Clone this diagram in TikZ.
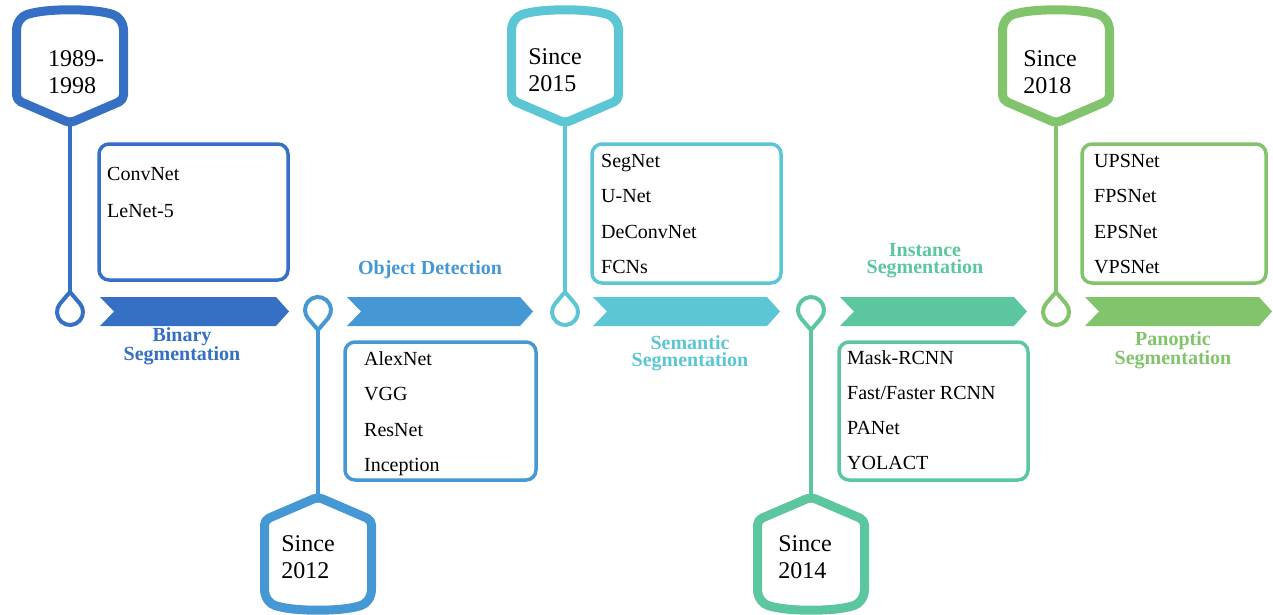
\documentclass[tikz,border=0pt]{standalone}
\usepackage{fontspec}
\setmainfont{Liberation Serif}
\definecolor{cA}{HTML}{3570C4}
\definecolor{cB}{HTML}{4698D5}
\definecolor{cC}{HTML}{5CC6D4}
\definecolor{cD}{HTML}{5CC79E}
\definecolor{cE}{HTML}{82C46B}
\newcommand\topbadge[2]{%
  \draw[badge,draw=#2] (#1-53.5,-100) -- (#1-53.5,-36) .. controls (#1-53.5,-22) and (#1-48,-16) .. (#1-38,-13)
    .. controls (#1-15,-9) and (#1+15,-9) .. (#1+38,-13) .. controls (#1+48,-16) and (#1+53.5,-22) .. (#1+53.5,-36)
    -- (#1+53.5,-100) -- (#1,-123) -- cycle;}
\newcommand\botbadge[2]{%
  \draw[badge,draw=#2] (#1-53.5,-520) -- (#1-53.5,-584) .. controls (#1-53.5,-598) and (#1-48,-604) .. (#1-38,-607)
    .. controls (#1-15,-611) and (#1+15,-611) .. (#1+38,-607) .. controls (#1+48,-604) and (#1+53.5,-598) .. (#1+53.5,-584)
    -- (#1+53.5,-520) -- (#1,-497) -- cycle;}
\newcommand\dropup[3]{% cx, cy, color
  \draw[ring,draw=#3] ([shift={(#1,#2)}]139.46:13) arc[start angle=139.46,end angle=400.54,radius=13] -- (#1,#2+20) -- cycle;}
\newcommand\dropdown[3]{%
  \draw[ring,draw=#3] ([shift={(#1,#2)}]319.46:13) arc[start angle=319.46,end angle=580.54,radius=13] -- (#1,#2-20) -- cycle;}
\newcommand\chev[3]{% left, tip, color
  \fill[#3] (#1,-297) -- (#2-13,-297) -- (#2,-311.5) -- (#2-13,-326) -- (#1,-326) -- (#1+14,-311.5) -- cycle;}
\begin{document}
\begin{tikzpicture}[x=1pt,y=1pt,
  badge/.style={line width=9pt,line join=round,rounded corners=5pt},
  ring/.style={line width=4pt,line join=round},
  stem/.style={line width=4pt},
  listbox/.style={line width=3.5pt,rounded corners=10pt},
  item/.style={anchor=base west,inner sep=0pt,font=\fontsize{20}{24}\selectfont},
  year/.style={align=left,inner sep=0pt,font=\fontsize{24}{27}\selectfont},
  lab/.style={align=center,inner sep=0pt,font=\fontsize{20}{17}\selectfont\bfseries}]
\fill[white] (0,0) rectangle (1273,-614);
\useasboundingbox (0,0) rectangle (1273,-614);

% chevrons
\chev{100}{289}{cA}
\chev{347}{533}{cB}
\chev{593}{780}{cC}
\chev{840}{1027}{cD}
\chev{1085}{1272}{cE}

% badges
\topbadge{70}{cA}
\botbadge{318}{cB}
\topbadge{565}{cC}
\botbadge{811}{cD}
\topbadge{1056}{cE}

% drops
\dropup{70}{-312}{cA}
\dropdown{318}{-310}{cB}
\dropup{565}{-312}{cC}
\dropdown{811}{-310}{cD}
\dropup{1056}{-312}{cE}

% stems
\coordinate (b1) at (70,-123);   \coordinate (t1) at (70,-292);
\coordinate (b2) at (318,-497);  \coordinate (t2) at (318,-330);
\coordinate (b3) at (565,-123);  \coordinate (t3) at (565,-292);
\coordinate (b4) at (811,-497);  \coordinate (t4) at (811,-330);
\coordinate (b5) at (1056,-123); \coordinate (t5) at (1056,-292);
\draw[stem,cA] (b1) -- (t1);
\draw[stem,cB] (b2) -- (t2);
\draw[stem,cC] (b3) -- (t3);
\draw[stem,cD] (b4) -- (t4);
\draw[stem,cE] (b5) -- (t5);

% year texts
\node[year] (y1) at (76,-72) {1989-\\1998};
\node[year] (y2) at (308,-557) {Since\\2012};
\node[year] (y3) at (555,-70) {Since\\2015};
\node[year] (y4) at (805,-557) {Since\\2014};
\node[year] (y5) at (1050,-72) {Since\\2018};

% list boxes
\draw[listbox,cA] (99,-144) rectangle (288,-280);
\draw[listbox,cB] (345,-342) rectangle (536,-480);
\draw[listbox,cC] (592,-144) rectangle (781,-283);
\draw[listbox,cD] (839,-342) rectangle (1028,-480);
\draw[listbox,cE] (1082,-144) rectangle (1266,-283);

\node[item] (a1) at (107,-180) {ConvNet};
\node[item] (a2) at (107,-217) {LeNet-5};

\node[item] (b1t) at (364,-365) {AlexNet};
\node[item] (b2t) at (364,-400.5) {VGG};
\node[item] (b3t) at (364,-436) {ResNet};
\node[item] (b4t) at (364,-471.5) {Inception};

\node[item] (c1) at (601,-167) {SegNet};
\node[item] (c2) at (601,-202.5) {U-Net};
\node[item] (c3) at (601,-238) {DeConvNet};
\node[item] (c4) at (601,-273) {FCNs};

\node[item] (d1) at (847,-364) {Mask-RCNN};
\node[item] (d2) at (847,-399) {Fast/Faster RCNN};
\node[item] (d3) at (847,-434) {PANet};
\node[item] (d4) at (847,-469) {YOLACT};

\node[item] (e1) at (1094,-167) {UPSNet};
\node[item] (e2) at (1094,-202.5) {FPSNet};
\node[item] (e3) at (1094,-238) {EPSNet};
\node[item] (e4) at (1094,-273) {VPSNet};

% labels
\node[lab,cA] (l1) at (182,-346) {Binary\\Segmentation};
\node[lab,cB] (l2) at (430,-270) {Object Detection};
\node[lab,cC] (l3) at (690,-353) {Semantic\\Segmentation};
\node[lab,cD] (l4) at (925,-261) {Instance\\Segmentation};
\node[lab,cE] (l5) at (1173,-350) {Panoptic\\Segmentation};
\end{tikzpicture}
\end{document}
